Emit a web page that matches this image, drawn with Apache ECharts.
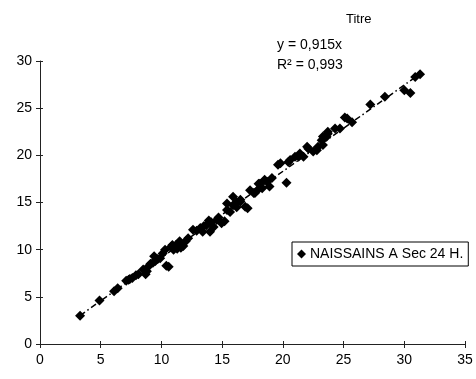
<!DOCTYPE html>
<html>
<head>
<meta charset="utf-8">
<script src="https://cdn.jsdelivr.net/npm/echarts@6/dist/echarts.min.js"></script>
<style>
html,body{margin:0;padding:0;background:#fff;}
#c{width:476px;height:379px;}
</style>
</head>
<body>
<div id="c"></div>
<script>
// ---- data ----
const seriesName = 'NAISSAINS A Sec 24 H.';
const xValues = [
  3.3, 4.9, 6.1, 6.4, 7.1, 7.3, 7.4, 7.6, 7.9, 8.1, 8.5, 8.7, 8.9, 8.8, 9.1,
  9.3, 9.5, 9.7, 9.9, 9.4, 10.3, 10.4, 10.6, 10.1, 10.8, 10.9, 11.2, 11.5,
  11.3, 11.8, 12.0, 12.2, 11.6, 11.0, 12.6, 12.9, 13.2, 13.5, 13.7, 13.4, 14.0,
  13.9, 14.3, 14.1, 14.55, 14.95, 14.7, 15.2, 15.4, 15.4, 15.65, 15.9, 15.9, 16.2,
  16.5, 16.5, 16.9, 17.1, 16.2, 17.3, 17.6, 17.7, 18.0, 18.1, 18.3, 18.5, 18.9,
  19.1, 18.7, 17.9, 20.3, 19.6, 19.8, 20.45, 20.6, 21.0, 21.3, 21.4, 21.7, 22.0, 22.1,
  22.5, 22.8, 22.9, 23.2, 23.3, 23.3, 23.6, 23.7, 23.7, 24.3, 24.7, 25.1,
  25.3, 25.7, 27.2, 28.4, 30.0, 30.5, 30.9, 31.3
];
const yValues = [
  3.0, 4.6, 5.6, 5.9, 6.7, 6.8, 6.9, 7.0, 7.3, 7.4, 7.9, 7.4, 8.2, 7.7, 8.5,
  8.6, 8.8, 9.0, 9.1, 9.3, 10.0, 8.3, 8.2, 9.6, 10.3, 10.5, 10.5, 10.9,
  10.1, 10.4, 10.9, 11.2, 10.2, 10.0, 12.1, 12.0, 12.3, 12.5, 12.6, 11.9, 11.9,
  13.1, 12.4, 12.9, 13.15, 12.8, 13.4, 13.0, 14.2, 14.9, 14.0, 15.6, 14.7, 15.0,
  15.3, 15.1, 14.55, 14.4, 14.5, 16.3, 16.0, 16.0, 17.0, 17.0, 16.5, 17.4, 16.7,
  17.6, 17.2, 16.3, 17.1, 19.0, 19.15, 19.3, 19.5, 19.85, 19.85, 20.2, 19.85, 20.9, 20.7,
  20.4, 20.55, 20.9, 21.6, 21.1, 22.0, 21.96, 22.3, 22.5, 22.85, 22.85, 24.0,
  23.9, 23.5, 25.4, 26.2, 26.9, 26.6, 28.3, 28.6
];
const trendSlope = 0.915;
const trendXRange = [3.3, 31.4];
const equationLines = ['y = 0,915x', 'R\u00B2 = 0,993'];
const titleText = 'Titre';
const xTickLabels = ['0', '5', '10', '15', '20', '25', '30', '35'];
const yTickLabels = ['0', '5', '10', '15', '20', '25', '30'];

// ---- build chart ----
const points = xValues.map((x, i) => [x, yValues[i]]);
const trendPoints = trendXRange.map(x => [x, trendSlope * x]);
const font = 'Liberation Sans, Arial, sans-serif';

const chart = echarts.init(document.getElementById('c'), null, {renderer: 'canvas'});
const xMax = (xTickLabels.length - 1) * 5;
const yMax = (yTickLabels.length - 1) * 5;
const axisColor = '#222';

chart.setOption({
  animation: false,
  backgroundColor: '#fff',
  title: {
    text: titleText,
    left: 341, top: 8,
    textStyle: {fontFamily: font, fontSize: 13, fontWeight: 'normal', color: '#000'}
  },
  graphic: [
    {type: 'text', left: 277, top: 38, style: {text: equationLines[0], font: '14px ' + font, fill: '#000'}},
    {type: 'text', left: 277, top: 58, style: {text: equationLines[1], font: '14px ' + font, fill: '#000'}}
  ],
  grid: {left: 40, right: 11, top: 61, bottom: 35, containLabel: false},
  legend: {
    data: [seriesName],
    left: 292, top: 242,
    orient: 'horizontal',
    icon: 'diamond',
    itemWidth: 9, itemHeight: 9, itemGap: 4,
    padding: [5, 5, 5, 5],
    borderColor: '#000', borderWidth: 1,
    backgroundColor: '#fff',
    textStyle: {fontFamily: font, fontSize: 14, color: '#000', padding: [0, 0, 0, -1]}
  },
  xAxis: [
    {
      type: 'value', min: 0, max: xMax, interval: 5,
      axisLine: {onZero: false, lineStyle: {color: axisColor, width: 1}},
      axisTick: {show: true, length: 4, lineStyle: {color: axisColor}},
      axisLabel: {fontFamily: font, fontSize: 14, color: '#000', margin: 9,
        formatter: (v) => xTickLabels[Math.round(v / 5)]},
      splitLine: {show: false}
    },
    {
      type: 'value', min: 0, max: xMax, interval: 5, position: 'bottom',
      axisLine: {show: false},
      axisTick: {show: true, inside: true, length: 3, lineStyle: {color: axisColor}},
      axisLabel: {show: false}, splitLine: {show: false}
    }
  ],
  yAxis: [
    {
      type: 'value', min: 0, max: yMax, interval: 5,
      axisLine: {show: true, onZero: false, lineStyle: {color: axisColor, width: 1}},
      axisTick: {show: true, length: 4, lineStyle: {color: axisColor}},
      axisLabel: {fontFamily: font, fontSize: 14, color: '#000', margin: 8,
        formatter: (v) => yTickLabels[Math.round(v / 5)]},
      splitLine: {show: false}
    },
    {
      type: 'value', min: 0, max: yMax, interval: 5, position: 'left',
      axisLine: {show: false},
      axisTick: {show: true, inside: true, length: 3, lineStyle: {color: axisColor}},
      axisLabel: {show: false}, splitLine: {show: false}
    }
  ],
  series: [
    {
      name: 'trend', type: 'line', data: trendPoints,
      xAxisIndex: 0, yAxisIndex: 0,
      symbol: 'none', silent: true, z: 1,
      lineStyle: {color: '#000', width: 1.5, type: [6, 3, 1.5, 3]}
    },
    {
      name: seriesName, type: 'scatter', data: points,
      xAxisIndex: 0, yAxisIndex: 0,
      symbol: 'diamond', symbolSize: 10, z: 2,
      itemStyle: {color: '#000', opacity: 1}
    }
  ]
});
</script>
</body>
</html>
